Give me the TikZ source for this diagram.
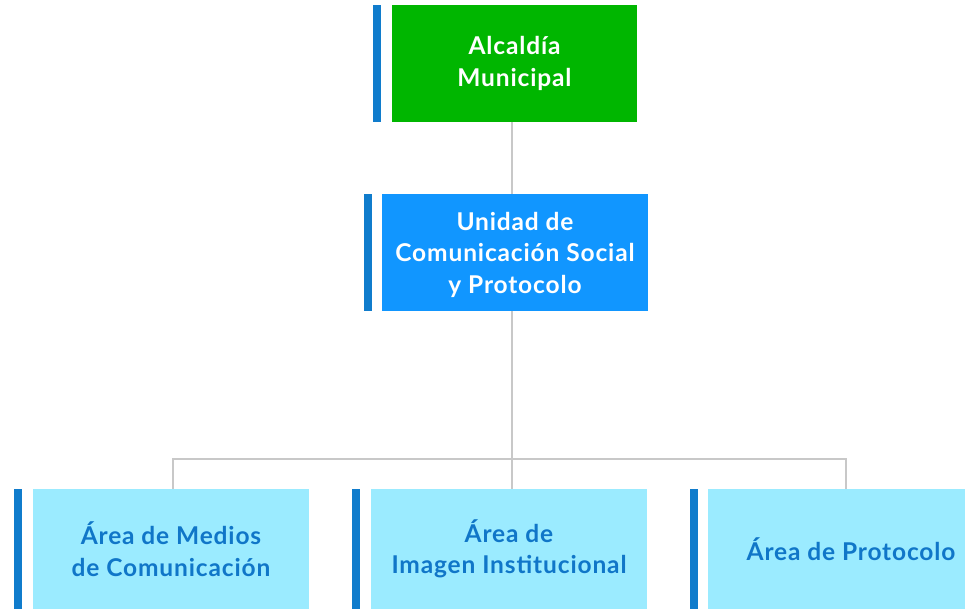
\documentclass[tikz,border=0pt]{standalone}
\usepackage{fontspec}
\setmainfont{Lato}[LetterSpace=3.5]
\definecolor{gr}{RGB}{0,182,0}
\definecolor{bl}{RGB}{17,150,255}
\definecolor{lc}{RGB}{155,235,255}
\definecolor{bar}{RGB}{16,124,204}
\definecolor{tx}{RGB}{16,118,200}
\definecolor{ln}{RGB}{200,200,200}
\begin{document}
\begin{tikzpicture}[x=1pt,y=-1pt,
  box/.style={draw=none,inner sep=0pt,align=center,font=\bfseries\fontsize{24.5}{31.5}\selectfont},
  barst/.style={fill=bar,draw=none},
  conn/.style={draw=ln,line width=2.5pt}]
\useasboundingbox (0,0) rectangle (965,608);
\begin{scope}
\clip (0,0) rectangle (965,608);
% top
\fill[barst] (373,5) rectangle (381,122);
\node[box,fill=gr,text=white,minimum width=245pt,minimum height=117pt] (a) at (514.5,63.5) {Alcaldía\\Municipal};
% second
\fill[barst] (364,194) rectangle (372,311);
\node[box,fill=bl,text=white,minimum width=266pt,minimum height=117pt,text depth=0pt] (u) at (515,252.5) {Unidad de\\Comunicación Social\\y Protocolo};
% bottom
\fill[barst] (14,489) rectangle (22,612);
\node[box,fill=lc,text=tx,minimum width=276pt,minimum height=120pt] (m) at (171,549) {Área de Medios\\de Comunicación};
\fill[barst] (352,489) rectangle (360,612);
\node[box,fill=lc,text=tx,minimum width=276pt,minimum height=120pt] (i) at (509,549) {Área de\\Imagen Institucional};
\fill[barst] (690,489) rectangle (698,612);
\node[box,fill=lc,text=tx,minimum width=286pt,minimum height=120pt] (p) at (851,549) {Área de Protocolo};
\coordinate (j) at (512,459);
\draw[conn] (512,122) -- (512,194);
\draw[conn] (512,311) -- (j);
\draw[conn] (173,489) |- (j) -| (846,489);
\draw[conn] (j) -- (512,489);
\end{scope}
\end{tikzpicture}
\end{document}
